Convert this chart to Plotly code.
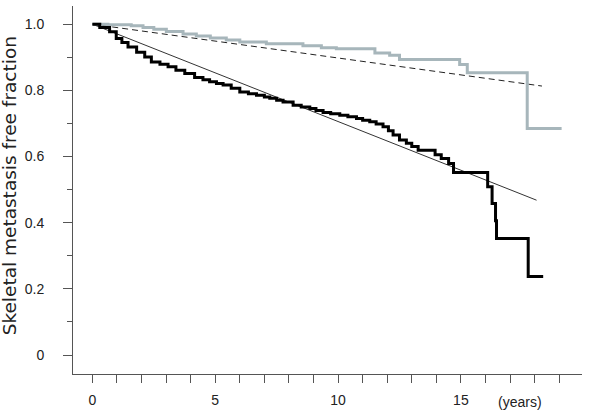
import plotly.graph_objects as go

# Black Kaplan-Meier curve (step times in years, survival fraction)
black_t = [0, 0.3, 0.7, 0.97, 1.2, 1.45, 1.8, 2.13, 2.4, 2.75, 3.08, 3.4, 3.76, 4.16, 4.5,
           4.77, 5.05, 5.32, 5.65, 6.0, 6.35, 6.68, 7.0, 7.22, 7.5, 7.76, 8.17, 8.5, 8.85,
           9.1, 9.39, 9.7, 10.07, 10.4, 10.75, 11.0, 11.29, 11.55, 11.83, 12.05, 12.24,
           12.5, 12.78, 13.0, 13.26, 13.95, 14.2, 14.5, 14.7, 16.09, 16.27, 16.41, 16.45,
           17.74, 18.35]
black_v = [1.0, 0.99, 0.977, 0.957, 0.945, 0.931, 0.915, 0.901, 0.886, 0.879, 0.871, 0.861,
           0.851, 0.839, 0.832, 0.826, 0.821, 0.816, 0.806, 0.795, 0.79, 0.785, 0.78, 0.776,
           0.77, 0.765, 0.755, 0.75, 0.745, 0.739, 0.733, 0.729, 0.725, 0.72, 0.715, 0.71,
           0.705, 0.698, 0.69, 0.678, 0.665, 0.65, 0.64, 0.63, 0.619, 0.605, 0.594, 0.579,
           0.552, 0.509, 0.458, 0.406, 0.352, 0.237, 0.237]

# Gray Kaplan-Meier curve
gray_t = [0, 0.63, 1.58, 2.06, 2.5, 3.01, 3.69, 4.23, 4.8, 5.45, 6.0, 7.08, 8.57, 9.32,
          9.93, 11.5, 12.1, 12.5, 14.95, 15.26, 17.7, 19.1]
gray_v = [1.0, 0.998, 0.995, 0.99, 0.985, 0.978, 0.97, 0.964, 0.958, 0.952, 0.946, 0.941,
          0.935, 0.929, 0.926, 0.913, 0.906, 0.893, 0.878, 0.853, 0.685, 0.685]

# Fitted straight lines
thin_t = [0, 18.08]
thin_v = [1.0, 0.468]
dash_t = [0, 18.3]
dash_v = [1.0, 0.813]

x_tick_vals = list(range(0, 20))
x_tick_text = [str(v) if v in (0, 5, 10, 15) else "" for v in x_tick_vals]
y_tick_vals = [0, 0.2, 0.4, 0.6, 0.8, 1.0]
y_tick_text = ["0", "0.2", "0.4", "0.6", "0.8", "1.0"]

fig = go.Figure()
fig.add_trace(go.Scatter(x=dash_t, y=dash_v, mode="lines",
                         line=dict(color="#222222", width=1, dash="6px,4px")))
fig.add_trace(go.Scatter(x=thin_t, y=thin_v, mode="lines",
                         line=dict(color="#333333", width=1)))
fig.add_trace(go.Scatter(x=gray_t, y=gray_v, mode="lines", line_shape="hv",
                         line=dict(color="#a7b6bb", width=3)))
fig.add_trace(go.Scatter(x=black_t, y=black_v, mode="lines", line_shape="hv",
                         line=dict(color="#000000", width=3)))

font = dict(family="Arial, Liberation Sans, sans-serif", size=14, color="#222222")
fig.update_layout(
    width=600, height=412,
    margin=dict(l=73, r=18, t=6, b=38),
    paper_bgcolor="white", plot_bgcolor="white",
    showlegend=False,
    font=font,
    xaxis=dict(range=[-0.79, 19.93], showgrid=False, zeroline=False, automargin=False,
               showline=True, linecolor="#555555", linewidth=1,
               ticks="outside", ticklen=8, tickcolor="#555555",
               tickvals=x_tick_vals, ticktext=x_tick_text,
               ticklabelstandoff=5, tickfont=font),
    yaxis=dict(range=[-0.0574, 1.055], showgrid=False, zeroline=False, automargin=False,
               showline=True, linecolor="#555555", linewidth=1,
               ticks="outside", ticklen=9, tickcolor="#555555",
               tickvals=y_tick_vals, ticktext=y_tick_text,
               ticklabelstandoff=16, tickfont=font,
               minor=dict(tickvals=[0.1, 0.3, 0.5, 0.7, 0.9], ticks="outside",
                          ticklen=5, tickcolor="#555555")),
    annotations=[
        dict(text="(years)", x=17.4, xref="x", y=0, yref="paper", yanchor="middle",
             yshift=-28, showarrow=False, font=font),
        dict(text="Skeletal metastasis free fraction", x=0, xref="paper", xshift=-64,
             xanchor="center", yanchor="middle",
             y=0.51, yref="paper", textangle=-90, showarrow=False,
             font=dict(family="DejaVu Sans, sans-serif", size=18.5, color="#222222")),
    ],
)
fig.write_html("out.html", config={"displayModeBar": False},
               post_script="document.body.style.margin='0';")
